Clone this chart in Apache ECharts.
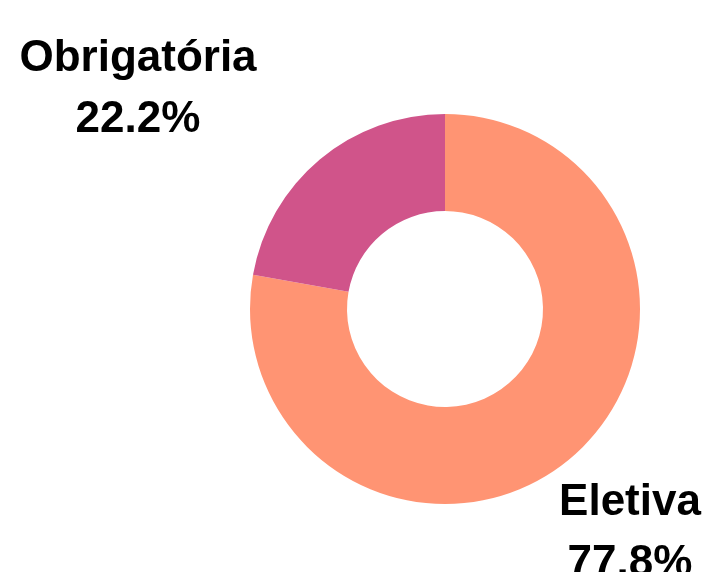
<!DOCTYPE html>
<html>
<head>
<meta charset="utf-8">
<script src="https://cdn.jsdelivr.net/npm/echarts@6/dist/echarts.min.js"></script>
<style>
  html, body { margin: 0; padding: 0; background: #fff; }
  #chart { width: 708px; height: 572px; }
</style>
</head>
<body>
<div id="chart"></div>
<script>
const categories = ['Eletiva', 'Obrigatória']
const shares = [77.8, 22.2]
const colors = ['#FF9473', '#D0548A']
// where each label block sits (centre of the two lines)
const labelSpots = [[630, 533], [138, 89]]

const myChart = echarts.init(document.getElementById('chart'))
myChart.setOption({
  animation: false,
  series: [{
    type: 'pie',
    center: [445, 309],
    radius: [98, 195],
    startAngle: 90,
    clockwise: true,
    data: categories.map((name, i) => ({
      name: name,
      value: shares[i],
      itemStyle: { color: colors[i] }
    })),
    label: {
      show: true,
      position: 'outside',
      formatter: p => p.name + '\n' + p.value.toFixed(1) + '%',
      fontFamily: 'Liberation Sans',
      fontWeight: 'bold',
      fontSize: 44,
      lineHeight: 61,
      color: '#000',
      align: 'center',
      overflow: 'none'
    },
    labelLine: { show: false },
    labelLayout: params => ({
      x: labelSpots[params.dataIndex][0],
      y: labelSpots[params.dataIndex][1],
      align: 'center',
      verticalAlign: 'middle'
    }),
    emphasis: { disabled: true }
  }]
})
</script>
</body>
</html>
